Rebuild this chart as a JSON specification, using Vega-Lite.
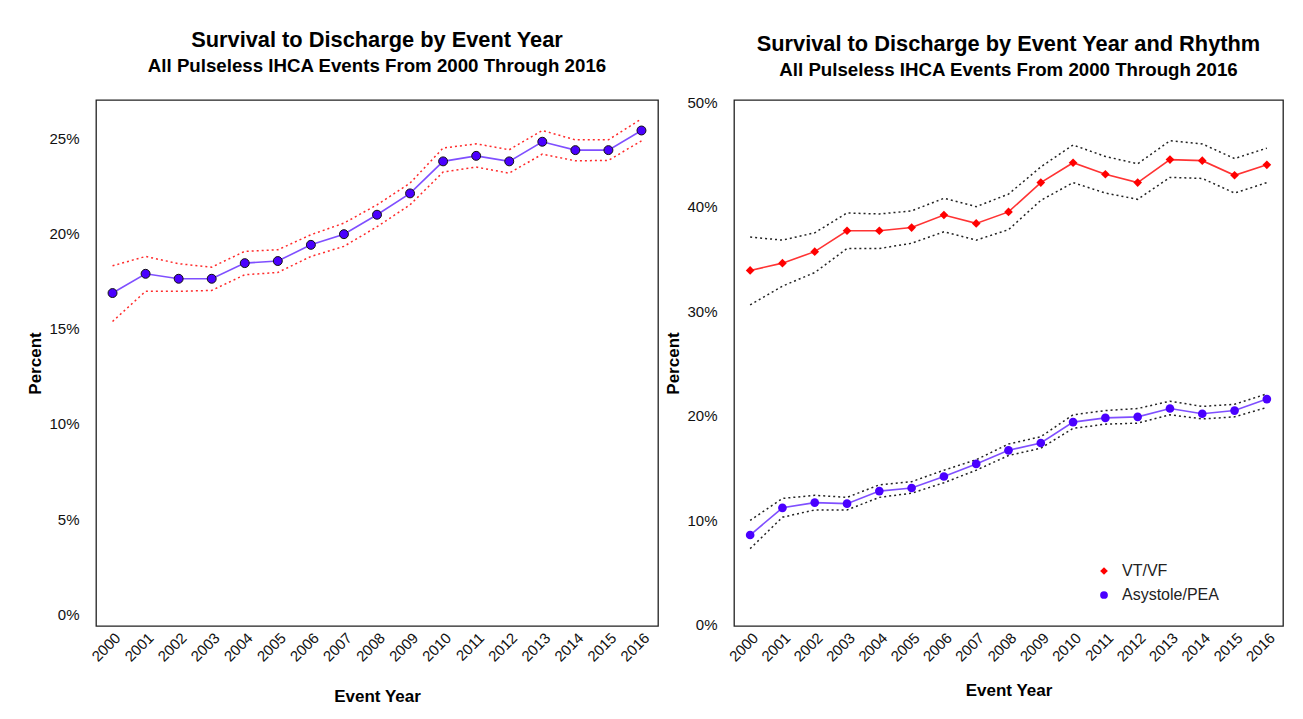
{
  "$schema": "https://vega.github.io/schema/vega-lite/v6.json",
  "background": "white",
  "padding": {"left": 26, "top": 28, "right": 10, "bottom": 10},
  "config": {
    "font": "Liberation Sans",
    "view": {"stroke": "#222222", "strokeWidth": 1.3},
    "axis": {"grid": false, "domain": false, "ticks": false, "labelFont": "Liberation Sans", "labelFontSize": 15, "labelColor": "#111111", "labelOverlap": false, "titleFont": "Liberation Sans", "titleFontSize": 17, "titleFontWeight": "bold", "titleColor": "#000000"},
    "title": {"font": "Liberation Sans", "fontSize": 21.8, "fontWeight": "bold", "color": "#000000", "subtitleFont": "Liberation Sans", "subtitleFontSize": 18.7, "subtitleFontWeight": "bold", "subtitleColor": "#000000", "anchor": "middle", "subtitlePadding": 6},
    "legend": {"labelFont": "Liberation Sans", "labelFontSize": 16, "labelColor": "#222222"},
    "concat": {"spacing": 5}
  },
  "resolve": {"scale": {"color": "independent", "shape": "independent"}, "legend": {"color": "independent", "shape": "independent"}},
  "datasets": {
    "overall": [
      {"year": 2000, "est": 16.87, "lo": 15.38, "hi": 18.30},
      {"year": 2001, "est": 17.88, "lo": 16.96, "hi": 18.79},
      {"year": 2002, "est": 17.62, "lo": 16.96, "hi": 18.41},
      {"year": 2003, "est": 17.62, "lo": 17.01, "hi": 18.23},
      {"year": 2004, "est": 18.44, "lo": 17.83, "hi": 19.06},
      {"year": 2005, "est": 18.55, "lo": 17.95, "hi": 19.14},
      {"year": 2006, "est": 19.40, "lo": 18.79, "hi": 19.93},
      {"year": 2007, "est": 19.96, "lo": 19.32, "hi": 20.54},
      {"year": 2008, "est": 20.98, "lo": 20.35, "hi": 21.50},
      {"year": 2009, "est": 22.10, "lo": 21.50, "hi": 22.64},
      {"year": 2010, "est": 23.78, "lo": 23.22, "hi": 24.48},
      {"year": 2011, "est": 24.07, "lo": 23.48, "hi": 24.70},
      {"year": 2012, "est": 23.78, "lo": 23.16, "hi": 24.39},
      {"year": 2013, "est": 24.81, "lo": 24.16, "hi": 25.40},
      {"year": 2014, "est": 24.37, "lo": 23.81, "hi": 24.91},
      {"year": 2015, "est": 24.37, "lo": 23.83, "hi": 24.91},
      {"year": 2016, "est": 25.40, "lo": 24.86, "hi": 26.01}
    ],
    "rhythm": [
      {"year": 2000, "rhythm": "VT/VF", "est": 33.9, "lo": 30.6, "hi": 37.1},
      {"year": 2001, "rhythm": "VT/VF", "est": 34.6, "lo": 32.4, "hi": 36.8},
      {"year": 2002, "rhythm": "VT/VF", "est": 35.7, "lo": 33.7, "hi": 37.5},
      {"year": 2003, "rhythm": "VT/VF", "est": 37.7, "lo": 36.0, "hi": 39.4},
      {"year": 2004, "rhythm": "VT/VF", "est": 37.7, "lo": 36.0, "hi": 39.3},
      {"year": 2005, "rhythm": "VT/VF", "est": 38.0, "lo": 36.5, "hi": 39.6},
      {"year": 2006, "rhythm": "VT/VF", "est": 39.2, "lo": 37.6, "hi": 40.8},
      {"year": 2007, "rhythm": "VT/VF", "est": 38.4, "lo": 36.8, "hi": 40.0},
      {"year": 2008, "rhythm": "VT/VF", "est": 39.5, "lo": 37.8, "hi": 41.2},
      {"year": 2009, "rhythm": "VT/VF", "est": 42.3, "lo": 40.6, "hi": 43.8},
      {"year": 2010, "rhythm": "VT/VF", "est": 44.2, "lo": 42.3, "hi": 45.9},
      {"year": 2011, "rhythm": "VT/VF", "est": 43.1, "lo": 41.3, "hi": 44.8},
      {"year": 2012, "rhythm": "VT/VF", "est": 42.3, "lo": 40.7, "hi": 44.1},
      {"year": 2013, "rhythm": "VT/VF", "est": 44.5, "lo": 42.8, "hi": 46.3},
      {"year": 2014, "rhythm": "VT/VF", "est": 44.4, "lo": 42.7, "hi": 46.0},
      {"year": 2015, "rhythm": "VT/VF", "est": 43.0, "lo": 41.3, "hi": 44.6},
      {"year": 2016, "rhythm": "VT/VF", "est": 44.0, "lo": 42.3, "hi": 45.6},
      {"year": 2000, "rhythm": "Asystole/PEA", "est": 8.6, "lo": 7.3, "hi": 10.0},
      {"year": 2001, "rhythm": "Asystole/PEA", "est": 11.2, "lo": 10.3, "hi": 12.1},
      {"year": 2002, "rhythm": "Asystole/PEA", "est": 11.7, "lo": 11.0, "hi": 12.4},
      {"year": 2003, "rhythm": "Asystole/PEA", "est": 11.6, "lo": 11.0, "hi": 12.2},
      {"year": 2004, "rhythm": "Asystole/PEA", "est": 12.8, "lo": 12.2, "hi": 13.4},
      {"year": 2005, "rhythm": "Asystole/PEA", "est": 13.1, "lo": 12.6, "hi": 13.7},
      {"year": 2006, "rhythm": "Asystole/PEA", "est": 14.2, "lo": 13.6, "hi": 14.8},
      {"year": 2007, "rhythm": "Asystole/PEA", "est": 15.4, "lo": 14.8, "hi": 15.8},
      {"year": 2008, "rhythm": "Asystole/PEA", "est": 16.7, "lo": 16.2, "hi": 17.3},
      {"year": 2009, "rhythm": "Asystole/PEA", "est": 17.4, "lo": 16.9, "hi": 18.0},
      {"year": 2010, "rhythm": "Asystole/PEA", "est": 19.4, "lo": 18.8, "hi": 20.1},
      {"year": 2011, "rhythm": "Asystole/PEA", "est": 19.8, "lo": 19.2, "hi": 20.5},
      {"year": 2012, "rhythm": "Asystole/PEA", "est": 19.9, "lo": 19.3, "hi": 20.7},
      {"year": 2013, "rhythm": "Asystole/PEA", "est": 20.7, "lo": 20.1, "hi": 21.4},
      {"year": 2014, "rhythm": "Asystole/PEA", "est": 20.2, "lo": 19.7, "hi": 20.9},
      {"year": 2015, "rhythm": "Asystole/PEA", "est": 20.5, "lo": 19.9, "hi": 21.1},
      {"year": 2016, "rhythm": "Asystole/PEA", "est": 21.6, "lo": 20.8, "hi": 22.1}
    ]
  },
  "hconcat": [
    {
      "width": 562,
      "height": 526,
      "title": {"text": "Survival to Discharge by Event Year", "subtitle": "All Pulseless IHCA Events From 2000 Through 2016", "offset": 24},
      "data": {"name": "overall"},
      "encoding": {
        "x": {"field": "year", "type": "quantitative", "scale": {"domain": [1999.5, 2016.5], "nice": false, "zero": false},
              "axis": {"values": [2000,2001,2002,2003,2004,2005,2006,2007,2008,2009,2010,2011,2012,2013,2014,2015,2016], "format": "d", "labelAngle": -45, "labelPadding": 4, "title": "Event Year", "titlePadding": 24}}
      },
      "layer": [
        {"mark": {"type": "line", "color": "#ff2a2a", "strokeDash": [2, 3], "strokeWidth": 1.5},
         "encoding": {"y": {"field": "lo", "type": "quantitative", "scale": {"domain": [-0.6, 27.0], "nice": false, "zero": false}, "title": "Percent", "axis": {"values": [0,5,10,15,20,25], "labelExpr": "datum.value + '%'", "labelPadding": 17, "titlePadding": 4}}}},
        {"mark": {"type": "line", "color": "#ff2a2a", "strokeDash": [2, 3], "strokeWidth": 1.5},
         "encoding": {"y": {"field": "hi", "type": "quantitative", "scale": {"domain": [-0.6, 27.0], "nice": false, "zero": false}, "title": "Percent", "axis": {"values": [0,5,10,15,20,25], "labelExpr": "datum.value + '%'", "labelPadding": 17, "titlePadding": 4}}}},
        {"mark": {"type": "line", "color": "#7f4fff", "strokeWidth": 1.6},
         "encoding": {"y": {"field": "est", "type": "quantitative", "scale": {"domain": [-0.6, 27.0], "nice": false, "zero": false}, "title": "Percent", "axis": {"values": [0,5,10,15,20,25], "labelExpr": "datum.value + '%'", "labelPadding": 17, "titlePadding": 4}}}},
        {"mark": {"type": "point", "filled": true, "color": "#4a00ff", "stroke": "#111111", "strokeWidth": 1, "size": 80, "opacity": 1},
         "encoding": {"y": {"field": "est", "type": "quantitative", "scale": {"domain": [-0.6, 27.0], "nice": false, "zero": false}, "title": "Percent", "axis": {"values": [0,5,10,15,20,25], "labelExpr": "datum.value + '%'", "labelPadding": 17, "titlePadding": 4}}}}
      ]
    },
    {
      "width": 549,
      "height": 526,
      "title": {"text": "Survival to Discharge by Event Year and Rhythm", "subtitle": "All Pulseless IHCA Events From 2000 Through 2016", "offset": 15},
      "data": {"name": "rhythm"},
      "encoding": {
        "x": {"field": "year", "type": "quantitative", "scale": {"domain": [1999.5, 2016.5], "nice": false, "zero": false},
              "axis": {"values": [2000,2001,2002,2003,2004,2005,2006,2007,2008,2009,2010,2011,2012,2013,2014,2015,2016], "format": "d", "labelAngle": -45, "labelPadding": 4, "title": "Event Year", "titlePadding": 18}}
      },
      "layer": [
        {"mark": {"type": "line", "color": "#222222", "strokeDash": [2, 3], "strokeWidth": 1.5},
         "encoding": {"detail": {"field": "rhythm"}, "y": {"field": "lo", "type": "quantitative", "scale": {"domain": [-0.1, 50.2], "nice": false, "zero": false}, "title": "Percent", "axis": {"values": [0,10,20,30,40,50], "labelExpr": "datum.value + '%'", "labelPadding": 17, "titlePadding": 4}}}},
        {"mark": {"type": "line", "color": "#222222", "strokeDash": [2, 3], "strokeWidth": 1.5},
         "encoding": {"detail": {"field": "rhythm"}, "y": {"field": "hi", "type": "quantitative", "scale": {"domain": [-0.1, 50.2], "nice": false, "zero": false}, "title": "Percent", "axis": {"values": [0,10,20,30,40,50], "labelExpr": "datum.value + '%'", "labelPadding": 17, "titlePadding": 4}}}},
        {"transform": [{"filter": "datum.rhythm === 'VT/VF'"}],
         "mark": {"type": "line", "strokeWidth": 1.6, "color": "#ff3333"},
         "encoding": {"y": {"field": "est", "type": "quantitative", "scale": {"domain": [-0.1, 50.2], "nice": false, "zero": false}, "title": "Percent", "axis": {"values": [0,10,20,30,40,50], "labelExpr": "datum.value + '%'", "labelPadding": 17, "titlePadding": 4}}}},
        {"transform": [{"filter": "datum.rhythm === 'Asystole/PEA'"}],
         "mark": {"type": "line", "strokeWidth": 1.6, "color": "#7f4fff"},
         "encoding": {"y": {"field": "est", "type": "quantitative", "scale": {"domain": [-0.1, 50.2], "nice": false, "zero": false}, "title": "Percent", "axis": {"values": [0,10,20,30,40,50], "labelExpr": "datum.value + '%'", "labelPadding": 17, "titlePadding": 4}}}},
        {"mark": {"type": "point", "filled": true, "size": 75, "opacity": 1},
         "encoding": {
           "color": {"field": "rhythm", "type": "nominal", "scale": {"domain": ["VT/VF", "Asystole/PEA"], "range": ["#ff0000", "#4a00ff"]},
                     "legend": {"title": null, "orient": "none", "legendX": 362, "legendY": 463, "symbolSize": 60, "rowPadding": 8, "labelOffset": 10}},
           "shape": {"field": "rhythm", "type": "nominal", "scale": {"domain": ["VT/VF", "Asystole/PEA"], "range": ["diamond", "circle"]},
                     "legend": {"title": null, "orient": "none", "legendX": 362, "legendY": 463, "symbolSize": 60, "rowPadding": 8, "labelOffset": 10}},
           "y": {"field": "est", "type": "quantitative", "scale": {"domain": [-0.1, 50.2], "nice": false, "zero": false}, "title": "Percent", "axis": {"values": [0,10,20,30,40,50], "labelExpr": "datum.value + '%'", "labelPadding": 17, "titlePadding": 4}}}}
      ]
    }
  ]
}
